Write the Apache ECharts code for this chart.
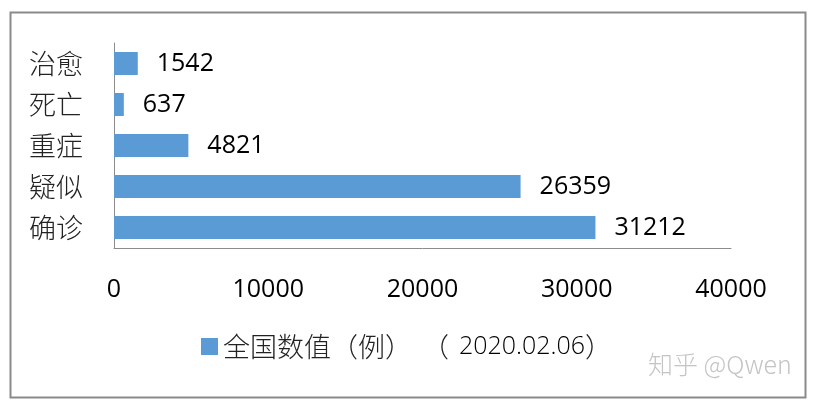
<!DOCTYPE html>
<html><head><meta charset="utf-8">
<script src="https://cdn.jsdelivr.net/npm/echarts@6/dist/echarts.min.js"></script>
<style>html,body{margin:0;padding:0;background:#fff}#c{width:815px;height:401px}</style>
</head><body><div id="c"></div>
<script>
const categories = ['治愈', '死亡', '重症', '疑似', '确诊'];
const values = [1542, 637, 4821, 26359, 31212];
const seriesName = '全国数值（例）（2020.02.06）';
const xTicks = [0, 10000, 20000, 30000, 40000];

const chart = echarts.init(document.getElementById('c'), null, {renderer: 'canvas'});
chart.setOption({
  animation: false,
  backgroundColor: '#fff',
  grid: {left: 114, right: 84, top: 43, bottom: 153, containLabel: false},
  xAxis: {
    type: 'value', min: xTicks[0], max: xTicks[xTicks.length - 1], interval: 10000,
    axisLine: {show: true, lineStyle: {color: '#8c8c8c', width: 1}},
    axisTick: {show: false},
    splitLine: {show: false},
    axisLabel: {margin: 29, fontSize: 25, color: '#000', fontFamily: 'Open Sans', formatter: v => String(v)}
  },
  yAxis: {
    type: 'category', data: categories, inverse: true,
    axisLine: {show: true, lineStyle: {color: '#8c8c8c', width: 1}},
    axisTick: {show: false},
    axisLabel: {margin: 31, fontSize: 27, color: '#222', fontFamily: 'Noto Sans CJK SC', fontWeight: 300}
  },
  legend: {
    show: true, top: 328, left: 196, itemWidth: 17, itemHeight: 17, itemGap: 6,
    icon: 'rect',
    formatter: () => '{a|全国数值（例}{a|）}{c|（}{b|2020.02.06}{a|）}',
    textStyle: {
      fontSize: 27, color: '#222', fontFamily: 'Noto Sans CJK SC', fontWeight: 300,
      rich: {
        a: {fontSize: 27, color: '#222', fontFamily: 'Noto Sans CJK SC', fontWeight: 300},
        c: {fontSize: 27, color: '#222', fontFamily: 'Noto Sans CJK SC', fontWeight: 300, width: 47, align: 'right'},
        b: {fontSize: 25, color: '#000', fontFamily: 'Open Sans'}
      }
    }
  },
  series: [{
    name: seriesName, type: 'bar', data: values,
    barCategoryGap: '44%',
    itemStyle: {color: '#5B9BD5'},
    label: {show: true, position: 'right', distance: 19, fontSize: 25, color: '#000', fontFamily: 'Open Sans'}
  }],
  graphic: [
    {type: 'rect', left: 8, top: 10, shape: {width: 795, height: 385}, style: {fill: 'none', stroke: '#8a8a8a', lineWidth: 2}, silent: true},
    {type: 'text', left: 648, top: 352, style: {text: '知乎 @Qwen', fontSize: 25, fill: '#c4c4c4', fontFamily: 'Noto Sans CJK SC', fontWeight: 300}, silent: true}
  ]
});
</script></body></html>
